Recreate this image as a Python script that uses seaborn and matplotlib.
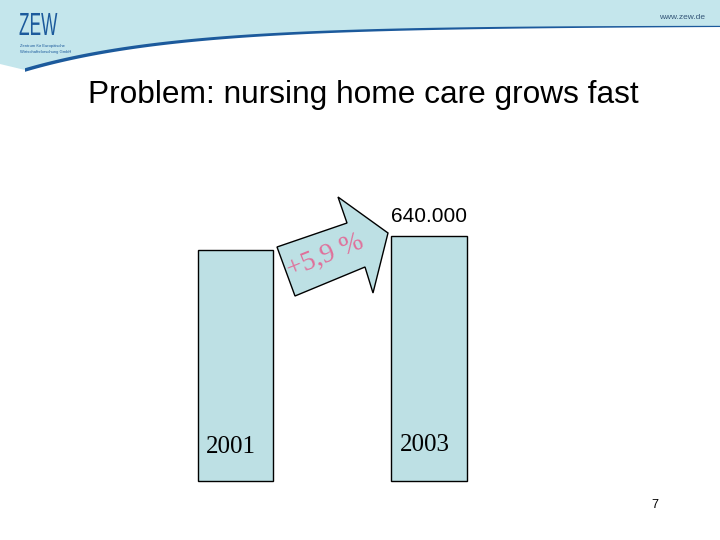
import numpy as np
import matplotlib
matplotlib.use("Agg")
import matplotlib.pyplot as plt
from matplotlib.patches import Polygon, PathPatch
from matplotlib.textpath import TextPath
from matplotlib.font_manager import FontProperties
from matplotlib.transforms import Affine2D
import seaborn as sns

# data
years = ["2001", "2003"]
cases = [604344, 640000]          # 640.000 in 2003, +5,9 % against 2001
growth_label = "+5,9 %"
value_label = "640.000"
title = "Problem: nursing home care grows fast"

bar_color = "#bde0e4"
header_color = "#c4e6ec"
zew_blue = "#1c5a9c"

sns.set_style("white")
plt.rcParams["font.family"] = ["Liberation Sans", "DejaVu Sans"]
plt.rcParams["text.color"] = "black"

fig = plt.figure(figsize=(7.2, 5.4), dpi=100)
W, H = 720.0, 540.0


def px(x, y):
    # pixel position (from top-left) -> figure fraction
    return (x / W, 1 - y / H)


# header band with swoosh
sx = np.linspace(25, 720, 200)
sy = 26 + 44 * np.exp(-(sx - 25) / 150)
thick = 3.6 - 2.4 * (sx - 25) / 695
band = [px(0, 0), px(720, 0)] + [px(x, y) for x, y in zip(sx[::-1], sy[::-1])] + [px(0, 64)]
fig.patches.append(Polygon(band, closed=True, transform=fig.transFigure,
                           facecolor=header_color, edgecolor="none", zorder=0))
upper = [px(x, y - t / 2) for x, y, t in zip(sx, sy, thick)]
lower = [px(x, y + t / 2) for x, y, t in zip(sx[::-1], sy[::-1], thick[::-1])]
fig.patches.append(Polygon(upper + lower, closed=True, transform=fig.transFigure,
                           facecolor=zew_blue, edgecolor="none", zorder=1))

# condensed "ZEW" logo
tp = TextPath((0, 0), "ZEW", size=32, prop=FontProperties(family="Liberation Sans"))
logo = tp.transformed(Affine2D().scale(0.54, 1.0).translate(19, H - 35))
fig.patches.append(PathPatch(logo, transform=None, facecolor=zew_blue,
                             edgecolor="none", zorder=2))
fig.text(*px(20, 47), "Zentrum für Europäische", fontsize=3.0,
         color=zew_blue, ha="left", va="baseline")
fig.text(*px(20, 53), "Wirtschaftsforschung GmbH", fontsize=3.0,
         color=zew_blue, ha="left", va="baseline")
fig.text(*px(705, 19), "www.zew.de", fontsize=6, color="#335577",
         ha="right", va="baseline")

fig.text(*px(363, 103), title, fontsize=22.8, ha="center", va="baseline",
         color="black")
fig.text(*px(655, 508), "7", fontsize=9, ha="center", va="baseline",
         color="black")

# bars: x=0 at px 235.5, x=1 at px 429 ; y=0 at px 481
ax = fig.add_axes([100 / W, 59 / H, 520 / W, 400 / H])
sns.barplot(x=years, y=cases, color=bar_color, edgecolor="black",
            linewidth=1, width=0.39, saturation=1, ax=ax)
for p in ax.patches:
    p.set_clip_on(False)
ax.set_xlim(-0.700, 1.987)
ax.set_ylim(0, cases[1] * 400 / 245)
ax.axis("off")

for i, yr in enumerate(years):
    ax.annotate(yr, (i, 0), xytext=(-3, 20 + 1.5 * i), textcoords="offset points",
                ha="center", va="baseline", fontsize=18, color="black",
                family=["Liberation Serif"])
ax.annotate(value_label, (1, cases[1]), xytext=(0, 10),
            textcoords="offset points", ha="center", va="baseline",
            fontsize=15, color="black")

# growth arrow between the bars
arrow = [(295, 296), (277, 247), (347, 223), (338, 197), (388, 233),
         (373, 293), (365, 267)]
fig.patches.append(Polygon([px(x, y) for x, y in arrow], closed=True,
                           transform=fig.transFigure, facecolor=bar_color,
                           edgecolor="black", lw=1, zorder=3))
fig.text(*px(325, 256), growth_label, fontsize=20, color="#e0709a",
         ha="center", va="center", rotation=22,
         family=["Liberation Serif"], zorder=4)

fig.savefig("out.png", dpi=100)
